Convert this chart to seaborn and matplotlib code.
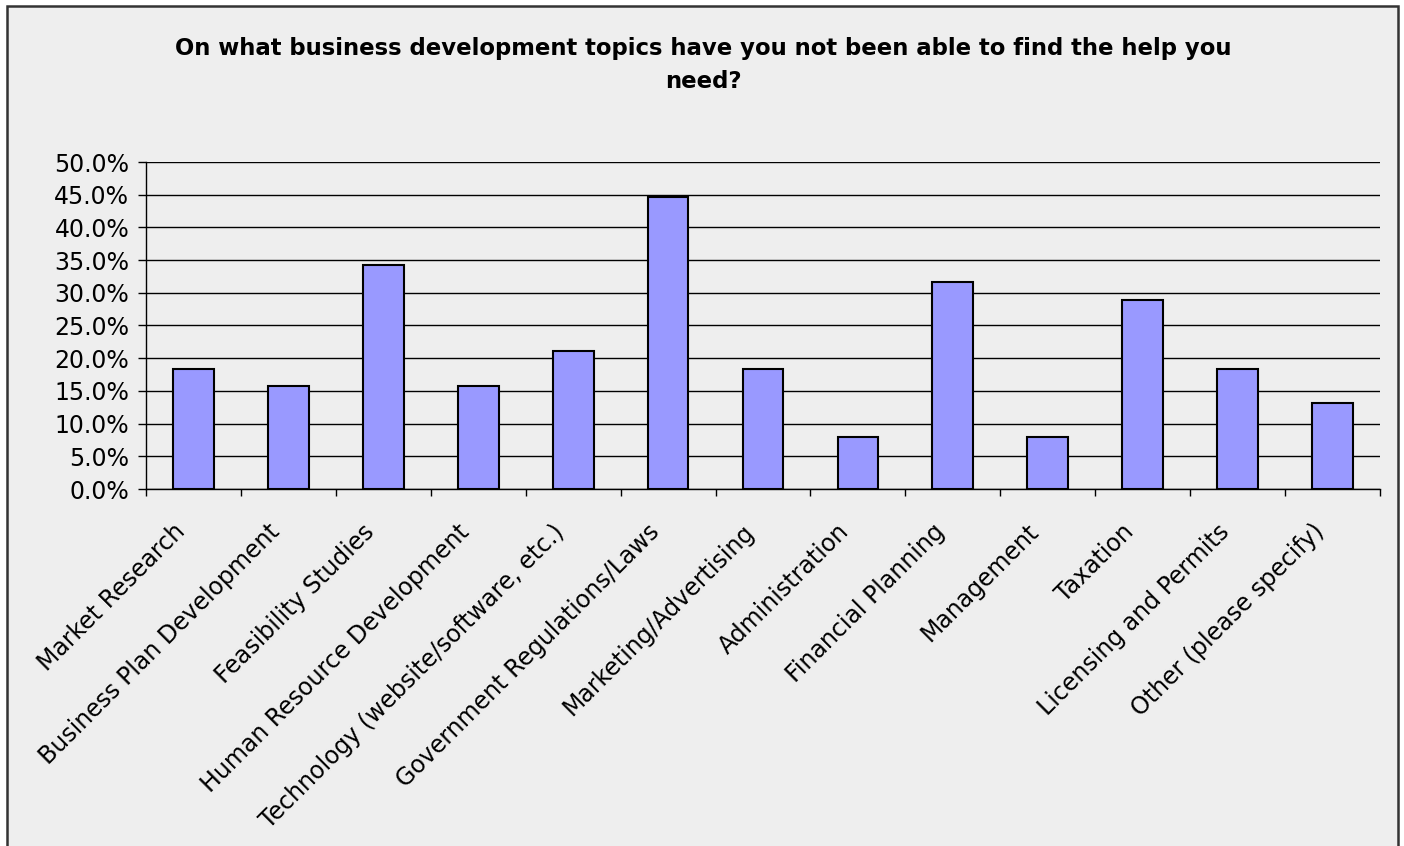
import matplotlib
matplotlib.use("Agg")
import matplotlib.pyplot as plt
import matplotlib.transforms as mtransforms
from matplotlib.patches import Rectangle
from matplotlib.ticker import FixedLocator, FuncFormatter
import seaborn as sns
import pandas as pd

title = "On what business development topics have you not been able to find the help you\nneed?"
topics = [
    "Market Research",
    "Business Plan Development",
    "Feasibility Studies",
    "Human Resource Development",
    "Technology (website/software, etc.)",
    "Government Regulations/Laws",
    "Marketing/Advertising",
    "Administration",
    "Financial Planning",
    "Management",
    "Taxation",
    "Licensing and Permits",
    "Other (please specify)",
]
percent = [18.4, 15.8, 34.2, 15.8, 21.1, 44.7, 18.4, 7.9, 31.6, 7.9, 28.9, 18.4, 13.2]
y_ticks = [0, 5, 10, 15, 20, 25, 30, 35, 40, 45, 50]

df = pd.DataFrame({"topic": topics, "percent": percent})

sns.set_theme(style="white")
plt.rcParams["font.family"] = ["DejaVu Sans"]

bg = "#eeeeee"
fig = plt.figure(figsize=(14.04, 8.46), dpi=100, facecolor="white")

# chart area frame
frame = Rectangle((7 / 1404, -0.02), (1398 - 7) / 1404, 1 - 6 / 846 + 0.02,
                  transform=fig.transFigure, facecolor=bg, edgecolor="#333333",
                  linewidth=1.8, zorder=0)
fig.patches.append(frame)

ax = fig.add_axes([146 / 1404, 1 - 489 / 846, (1380 - 146) / 1404, (489 - 162) / 846])
ax.set_zorder(2)
ax.set_facecolor(bg)

sns.barplot(data=df, x="topic", y="percent", color="#9999ff", saturation=1,
            edgecolor="black", linewidth=1.5, width=0.43, ax=ax, zorder=3)

ax.set_xlim(-0.5, len(topics) - 0.5)
ax.set_ylim(0, 50)
ax.set_xlabel("")
ax.set_ylabel("")

# horizontal gridlines
ax.set_yticks(y_ticks)
ax.yaxis.set_major_formatter(FuncFormatter(lambda v, p: f"{v:.1f}%"))
ax.yaxis.grid(True, color="black", linewidth=1.0, zorder=1)
ax.set_axisbelow(True)
ax.tick_params(axis="y", which="major", direction="out", length=6, width=1,
               color="black", labelsize=17, labelcolor="black", pad=6, left=True)

# category boundary ticks
ax.xaxis.set_minor_locator(FixedLocator([i - 0.5 for i in range(len(topics) + 1)]))
ax.tick_params(axis="x", which="minor", direction="out", length=5, width=1,
               color="black", bottom=True)
ax.tick_params(axis="x", which="major", length=0, labelsize=17,
               labelcolor="black", pad=0)

offset = mtransforms.ScaledTranslation(-15 / 72, -22 / 72, fig.dpi_scale_trans)
for lbl in ax.get_xticklabels():
    lbl.set_rotation(45)
    lbl.set_ha("right")
    lbl.set_va("top")
    lbl.set_rotation_mode("anchor")
    lbl.set_transform(lbl.get_transform() + offset)

for side in ["top", "right"]:
    ax.spines[side].set_visible(False)
for side in ["left", "bottom"]:
    ax.spines[side].set_color("black")
    ax.spines[side].set_linewidth(1.0)
    ax.spines[side].set_zorder(4)

fig.text(703 / 1404, 1 - 65 / 846, title, ha="center", va="center",
         fontsize=16.4, fontweight="bold", linespacing=1.6, color="black")

fig.savefig("out.png", dpi=100, facecolor="white")
